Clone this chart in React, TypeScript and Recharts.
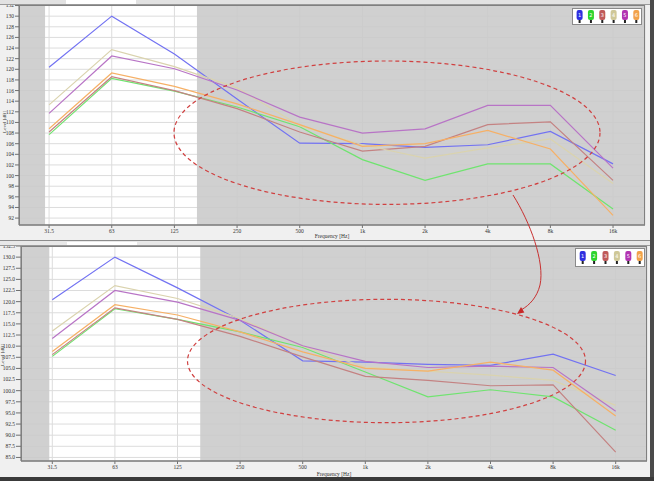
import React from 'react';
import { LineChart, Line, XAxis, YAxis, CartesianGrid, ReferenceArea, Legend } from 'recharts';

const freqLabels = ['31.5', '63', '125', '250', '500', '1k', '2k', '4k', '8k', '16k'];
const seriesKeys = ['s1', 's2', 's3', 's4', 's5', 's6'];
const seriesNames = ['1', '2', '3', '4', '5', '6'];
const lineColors = ['#7272f2', '#6fe46f', '#c48282', '#dad3ae', '#b874c6', '#f6b066'];
const legendColors = ['#2f2fe0', '#2ed42e', '#c05a5a', '#cfc898', '#b234b2', '#f2a24a'];

// top chart (measured)
const topS1 = [120.4, 130.0, 122.9, 114.4, 106.1, 106.0, 105.3, 105.8, 108.3, 102.2];
const topS2 = [107.7, 118.3, 115.9, 112.9, 109.2, 103.0, 99.1, 102.2, 102.2, 93.7];
const topS3 = [108.2, 118.6, 116.0, 112.6, 108.2, 104.6, 105.5, 109.6, 110.1, 99.1];
const topS4 = [113.3, 123.7, 120.5, 116.5, 109.4, 105.8, 103.3, 105.2, 106.9, 98.5];
const topS5 = [111.7, 122.5, 120.1, 116.1, 111.0, 108.0, 108.8, 113.2, 113.2, 101.4];
const topS6 = [108.8, 119.3, 116.8, 113.5, 109.6, 105.5, 106.0, 108.5, 105.0, 92.5];

// bottom chart (simulated)
const botS1 = [120.4, 130.0, 123.1, 115.8, 106.7, 106.4, 105.9, 105.7, 108.2, 103.4];
const botS2 = [107.7, 118.4, 116.0, 113.2, 109.7, 104.2, 98.6, 100.2, 98.6, 91.1];
const botS3 = [108.1, 118.6, 116.0, 112.2, 107.6, 103.2, 102.3, 101.1, 101.3, 86.2];
const botS4 = [113.4, 123.6, 120.7, 116.2, 110.0, 105.3, 104.4, 103.5, 102.3, 96.7];
const botS5 = [111.7, 122.5, 119.9, 115.8, 110.1, 106.6, 105.2, 105.5, 105.2, 95.4];
const botS6 = [108.8, 119.3, 117.0, 113.2, 108.7, 105.0, 104.4, 106.4, 104.6, 94.3];

const topYTicks = [92, 94, 96, 98, 100, 102, 104, 106, 108, 110, 112, 114, 116, 118, 120, 122, 124, 126, 128, 130, 132];
const botYTicks = [85, 87.5, 90, 92.5, 95, 97.5, 100, 102.5, 105, 107.5, 110, 112.5, 115, 117.5, 120, 122.5, 125, 127.5, 130, 132.5];
const xTicks = [0, 1, 2, 3, 4, 5, 6, 7, 8, 9];

const build = (arrs: number[][]) =>
  freqLabels.map((f, i) => {
    const row: any = { i, f };
    seriesKeys.forEach((k, j) => (row[k] = arrs[j][i]));
    return row;
  });

const topData = build([topS1, topS2, topS3, topS4, topS5, topS6]);
const botData = build([botS1, botS2, botS3, botS4, botS5, botS6]);

const FONT = '"Liberation Serif", "DejaVu Serif", serif';
const tickStyle = { fontSize: 5.5, fill: '#333', fontFamily: FONT };

const makeLegend = (w: number, h: number, x0: number, step: number, top: number) => (props: any) => (
  <div style={{ width: w, height: h, background: '#fff', border: '1px solid #8a8a8a', boxSizing: 'border-box' }}>
    <svg width={w - 2} height={h - 2} style={{ display: 'block' }}>
      {seriesNames.map((n, k) => (
        <g key={n} transform={`translate(${x0 + k * step - 3},${top})`}>
          <rect x={0} y={0} width={6} height={10} rx={2} fill={legendColors[k]} />
          <text x={3} y={7} fontSize={5} fill="#fff" textAnchor="middle" fontFamily="DejaVu Sans">{n}</text>
          <rect x={2} y={10} width={2} height={3} fill="#222" />
        </g>
      ))}
    </svg>
  </div>
);

type PanelProps = {
  data: any[];
  width: number;
  height: number;
  margin: any;
  yWidth: number;
  xHeight: number;
  xDomain: [number, number];
  yDomain: [number, number];
  yTicks: number[];
  yFmt: (v: number) => string;
  grey1: [number, number];
  grey2: [number, number];
  yTickSize: number;
  labelOffset: number;
  legendStyle: any;
  legendContent: any;
};

const Panel = (p: PanelProps) => (
  <LineChart width={p.width} height={p.height} data={p.data} margin={p.margin}>
    <CartesianGrid stroke="#dcdcdc" fill="#ffffff" fillOpacity={1} />
    <ReferenceArea x1={p.grey1[0]} x2={p.grey1[1]} fill="#c9c9c9" fillOpacity={0.88} stroke="none" ifOverflow="hidden" />
    <ReferenceArea x1={p.grey2[0]} x2={p.grey2[1]} fill="#c9c9c9" fillOpacity={0.88} stroke="none" ifOverflow="hidden" />
    <XAxis
      type="number"
      dataKey="i"
      domain={p.xDomain}
      ticks={xTicks}
      interval={0}
      allowDataOverflow
      height={p.xHeight}
      tickFormatter={(v: number) => freqLabels[v]}
      tick={tickStyle}
      tickSize={3}
      tickMargin={1}
      axisLine={{ stroke: '#707070' }}
      tickLine={{ stroke: '#707070' }}
      label={{ value: 'Frequency [Hz]', position: 'insideBottom', offset: p.labelOffset, fontSize: 5.5, fill: '#333', fontFamily: FONT }}
    />
    <YAxis
      type="number"
      domain={p.yDomain}
      ticks={p.yTicks}
      interval={0}
      allowDataOverflow
      width={p.yWidth}
      tickFormatter={p.yFmt}
      tick={tickStyle}
      tickSize={p.yTickSize}
      tickMargin={1}
      axisLine={{ stroke: '#707070' }}
      tickLine={{ stroke: '#707070' }}
    />
    {seriesKeys.map((k, j) => (
      <Line
        key={k}
        type="linear"
        dataKey={k}
        name={seriesNames[j]}
        stroke={lineColors[j]}
        strokeWidth={1.2}
        dot={false}
        activeDot={false}
        isAnimationActive={false}
      />
    ))}
    <Legend layout="horizontal" verticalAlign="middle" align="center" wrapperStyle={p.legendStyle} content={p.legendContent} />
  </LineChart>
);

export default function App() {
  return (
    <div style={{ position: 'absolute', left: 0, top: 0, width: 654, height: 481, background: '#f0f0f0', overflow: 'hidden' }}>
      <div style={{ position: 'absolute', left: 0, top: 0 }}>
        <Panel
          data={topData}
          width={654}
          height={240}
          margin={{ top: 5, right: 9, bottom: 0, left: 0 }}
          yWidth={19}
          xHeight={15}
          xDomain={[-0.48, 9.51]}
          yDomain={[90.7, 132.1]}
          yTicks={topYTicks}
          yFmt={(v: number) => String(v)}
          grey1={[-0.48, -0.064]}
          grey2={[2.36, 9.51]}
          yTickSize={4}
          labelOffset={2}
          legendStyle={{ position: 'absolute', left: 572, top: 8, width: 70, height: 17 }}
          legendContent={makeLegend(70, 17, 6.6, 11.34, 1)}
        />
      </div>
      <div style={{ position: 'absolute', left: 0, top: 240 }}>
        <Panel
          data={botData}
          width={654}
          height={237}
          margin={{ top: 6, right: 7, bottom: 0, left: 0 }}
          yWidth={21}
          xHeight={16}
          xDomain={[-0.5, 9.5]}
          yDomain={[84.2, 132.5]}
          yTicks={botYTicks}
          yFmt={(v: number) => v.toFixed(1)}
          grey1={[-0.5, -0.048]}
          grey2={[2.363, 9.5]}
          yTickSize={5}
          labelOffset={1}
          legendStyle={{ position: 'absolute', left: 575, top: 8, width: 70, height: 19 }}
          legendContent={makeLegend(70, 19, 6.7, 11.4, 2)}
        />
      </div>
      <svg width={654} height={481} style={{ position: 'absolute', left: 0, top: 0, pointerEvents: 'none' }}>
        <rect x={0} y={0} width={654} height={4} fill="#e2e2e2" />
        <rect x={66} y={0} width={70} height={4} fill="#ffffff" />
        <line x1={0} y1={4.5} x2={654} y2={4.5} stroke="#9a9a9a" />
        <rect x={0} y={240} width={654} height={6} fill="#e8e8e8" />
        <line x1={0} y1={240.5} x2={654} y2={240.5} stroke="#8c8c8c" />
        <rect x={67} y={242} width={70} height={4} fill="#ffffff" />
        <line x1={0} y1={245.5} x2={654} y2={245.5} stroke="#9a9a9a" />
        <rect x={19.5} y={5.5} width={625} height={219.5} fill="none" stroke="#808080" />
        <rect x={21.5} y={246.5} width={625} height={214.5} fill="none" stroke="#808080" />
        <text transform="translate(6,122) rotate(-90)" fontSize={5} fill="#333" fontFamily={FONT} textAnchor="middle">Level [dB]</text>
        <text transform="translate(4,355) rotate(-90)" fontSize={5} fill="#333" fontFamily={FONT} textAnchor="middle">Level [dB]</text>
        <ellipse cx={387} cy={132.7} rx={213} ry={71.7} fill="none" stroke="#d04040" strokeWidth={1.2} strokeDasharray="4 3" />
        <ellipse cx={386.5} cy={361} rx={199} ry={61.7} fill="none" stroke="#d04040" strokeWidth={1.2} strokeDasharray="4 3" />
        <path d="M513,195 C530,222 545,262 540,285 C537,297 530,305 521,310" fill="none" stroke="#c83030" strokeWidth={1} />
        <polygon points="517,314 524.4,312.5 521,307" fill="#c82828" />
        <rect x={650} y={0} width={4} height={481} fill="#4a4a4a" />
        <rect x={0} y={477} width={654} height={4} fill="#3a3a3a" />
      </svg>
    </div>
  );
}
